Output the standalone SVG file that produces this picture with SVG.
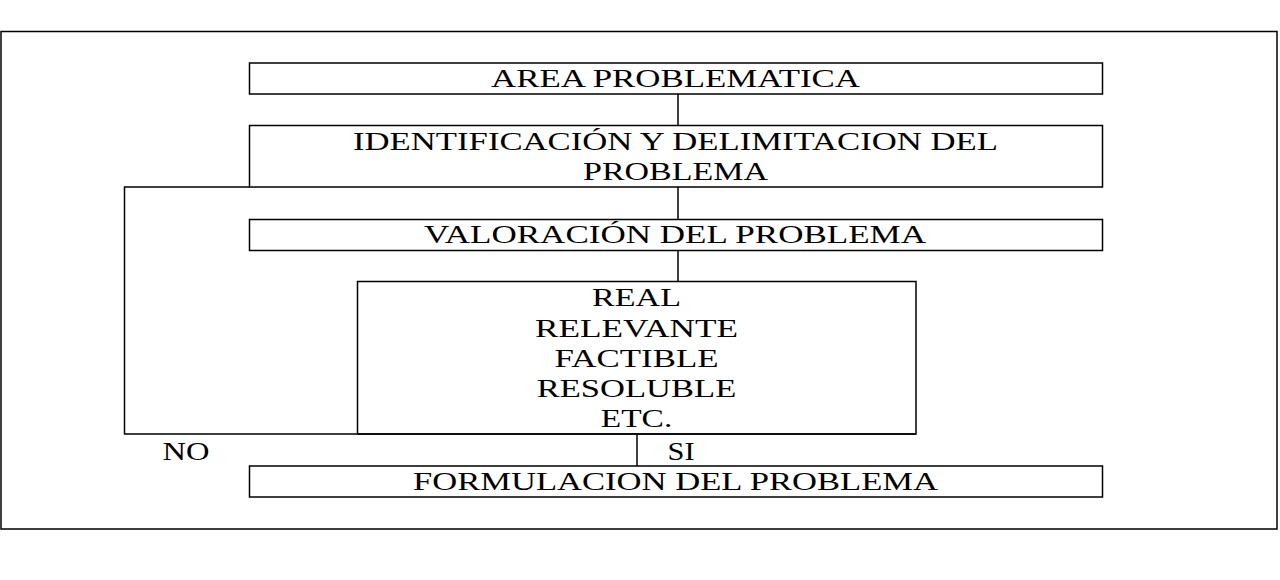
<svg xmlns="http://www.w3.org/2000/svg" width="1280" height="580" viewBox="0 0 1280 580">
<style>
.b{fill:none;stroke:#000;stroke-width:1.5}
.l{fill:none;stroke:#000;stroke-width:1.5}
text{font-family:"Liberation Serif","Times New Roman",serif;font-size:26px;fill:#000;text-anchor:middle}
</style>
<rect width="1280" height="580" fill="#fff"/>
<rect class="b" x="1" y="31.5" width="1276" height="497.5"/>
<g id="connectors">
<line class="l" x1="678" y1="94" x2="678" y2="125.5"/>
<line class="l" x1="678" y1="187" x2="678" y2="219.5"/>
<line class="l" x1="678" y1="250.5" x2="678" y2="281.5"/>
<polyline class="l" points="249.5,187 124.5,187 124.5,434 916,434"/>
<line class="l" x1="637" y1="434" x2="637" y2="466"/>
</g>
<g id="area"><rect class="b" x="249.5" y="63" width="853" height="31"/><text x="675.5" y="87" textLength="369" lengthAdjust="spacingAndGlyphs">AREA PROBLEMATICA</text></g>
<g id="identificacion"><rect class="b" x="249.5" y="125.5" width="853" height="61.5"/><text x="675.5" y="150" textLength="645" lengthAdjust="spacingAndGlyphs">IDENTIFICACIÓN Y DELIMITACION DEL</text><text x="675.5" y="179.5" textLength="185" lengthAdjust="spacingAndGlyphs">PROBLEMA</text></g>
<g id="valoracion"><rect class="b" x="249.5" y="219.5" width="853" height="31"/><text x="675" y="243" textLength="502" lengthAdjust="spacingAndGlyphs">VALORACIÓN DEL PROBLEMA</text></g>
<g id="criterios"><rect class="b" x="357.5" y="281.5" width="558.5" height="152.5"/><text x="636.5" y="306" textLength="89" lengthAdjust="spacingAndGlyphs">REAL</text><text x="636.5" y="336.5" textLength="203" lengthAdjust="spacingAndGlyphs">RELEVANTE</text><text x="636.5" y="366.5" textLength="164" lengthAdjust="spacingAndGlyphs">FACTIBLE</text><text x="636.5" y="396.5" textLength="199.5" lengthAdjust="spacingAndGlyphs">RESOLUBLE</text><text x="636.5" y="426.5" textLength="71.5" lengthAdjust="spacingAndGlyphs">ETC.</text></g>
<g id="formulacion"><rect class="b" x="249.5" y="466" width="853" height="31"/><text x="675.5" y="489.5" textLength="525" lengthAdjust="spacingAndGlyphs">FORMULACION DEL PROBLEMA</text></g>
<text x="186" y="459.5" textLength="47" lengthAdjust="spacingAndGlyphs">NO</text>
<text x="681" y="459.5" textLength="27" lengthAdjust="spacingAndGlyphs">SI</text>
</svg>
